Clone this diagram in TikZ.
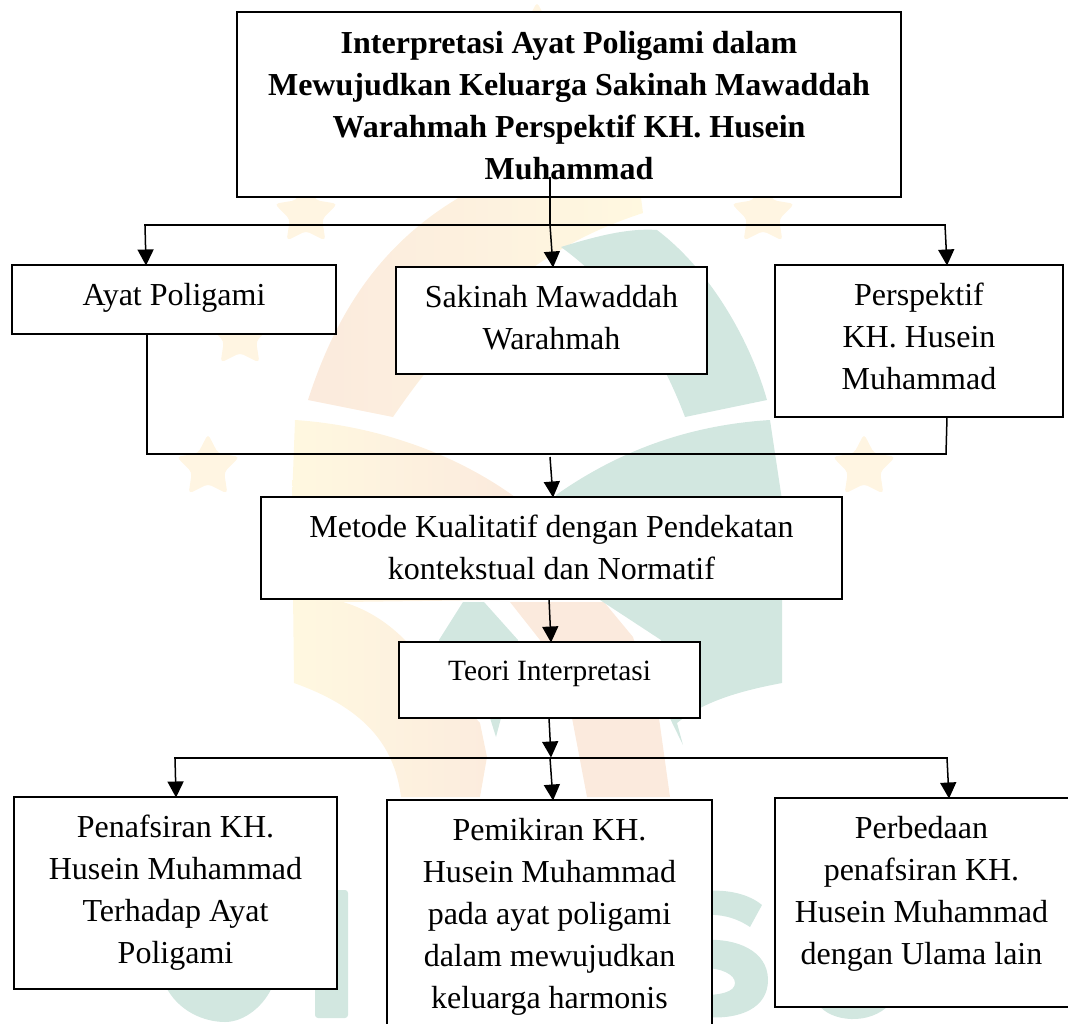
\documentclass[tikz,border=0pt]{standalone}
\usepackage{fontspec}
\setmainfont{Liberation Serif}
\usetikzlibrary{arrows.meta}
\definecolor{wmyellow}{HTML}{FFF8E0}
\definecolor{wmorange}{HTML}{FBEADD}
\definecolor{wmteal}{HTML}{D2E7E0}
\definecolor{wmstarc}{HTML}{FFF5E2}
\newcommand\wmstar[2]{\fill[wmstarc,rounded corners=4pt,shift={(#1,#2)}] (-90:33) -- (-54:17) -- (-18:33) -- (18:17) -- (54:33) -- (90:17) -- (126:33) -- (162:17) -- (198:33) -- (234:17) -- cycle;}
\newcommand\boxtext[4]{\parbox[c][#2pt][t]{#1pt}{\centering\fontsize{32}{42}\selectfont\rule{0pt}{#3pt}#4\par}}
\tikzset{
  boxnode/.style={draw=black,fill=white,line width=2pt,inner sep=0pt,outer sep=0pt,anchor=north west,rectangle},
  feed/.style={draw=black,line width=1.5pt},
  bar/.style={draw=black,line width=2.6pt,line cap=rect},
  arrowline/.style={draw=black,line width=1.5pt,-{Triangle[length=16pt,width=16pt]},shorten >=-0.5pt},
}
\begin{document}
\begin{tikzpicture}[x=1pt,y=-1pt]
\path[use as bounding box,clip] (0,0) rectangle (1068,1023);
% watermark
\wmstar{537}{35}
\wmstar{306}{214}
\wmstar{763}{214}
\wmstar{240}{336}
\wmstar{208}{467}
\wmstar{864}{467}
\path[left color=wmorange,right color=wmyellow]
  (308,400) .. controls (340,300) and (390,240) .. (455,200) -- (470,190) -- (640,190) -- (643,213)
  .. controls (560,240) and (480,290) .. (393,417) -- cycle;
\fill[wmteal] (561,247) .. controls (600,235) and (630,228) .. (657,230)
  .. controls (710,270) and (750,340) .. (767,400) -- (685,417) .. controls (660,350) and (620,290) .. (561,247) -- cycle;
\path[left color=wmyellow,right color=wmorange]
  (295,420) .. controls (370,425) and (450,450) .. (515,497) -- (500,600) -- (343,602)
  .. controls (370,610) and (390,625) .. (405,640) -- (480,723) -- (487,757) -- (480,797) -- (401,797)
  .. controls (395,750) and (370,710) .. (294,683) -- (292,500) -- cycle;
\fill[wmorange] (510,602) -- (604,602) -- (633,637) -- (659,718) -- (670,797) -- (587,797) -- (572,718) -- (540,640) -- cycle;
\fill[wmteal] (439,640) -- (463,602) -- (484,602) -- (518,640) -- (501,718) -- (496,737) -- (490,718) -- cycle;
\fill[wmteal] (556,495) .. controls (620,450) and (690,425) .. (770,420) -- (782,500) -- (782,683)
  .. controls (745,690) and (705,700) .. (677,723) -- (683,745) -- (661,700) -- (661,640) -- (600,600) -- cycle;
\fill[wmteal,rounded corners=3pt] (315,890) -- (348,890) -- (348,1018) -- (315,1018) -- cycle;
\fill[wmteal] (165,985) .. controls (178,1012) and (205,1022) .. (225,1022) .. controls (245,1022) and (265,1005) .. (273,985) -- cycle;
\fill[wmteal] (705,891) .. controls (730,889) and (750,895) .. (762,905) -- (750,927)
  .. controls (735,917) and (720,914) .. (705,915) -- cycle;
\fill[wmteal] (705,940) .. controls (735,938) and (768,950) .. (768,980)
  .. controls (768,1008) and (740,1020) .. (705,1017) -- (705,995)
  .. controls (720,995) and (735,992) .. (735,983) .. controls (735,974) and (720,968) .. (705,968) -- cycle;
\fill[wmteal] (818,1004) .. controls (830,1022) and (870,1026) .. (890,1004) -- cycle;
% boxes
\node[boxnode] (top) at (237,12) {\boxtext{664}{185}{41}{\bfseries Interpretasi Ayat Poligami dalam\\Mewujudkan Keluarga Sakinah Mawaddah\\Warahmah Perspektif KH. Husein\\Muhammad}};
\node[boxnode] (ayat) at (12,265) {\boxtext{324}{69}{40}{Ayat Poligami}};
\node[boxnode] (sakinah) at (396,267) {\boxtext{311}{107}{40}{Sakinah Mawaddah\\Warahmah}};
\node[boxnode] (persp) at (775,265) {\boxtext{288}{152}{40}{Perspektif\\KH. Husein\\Muhammad}};
\node[boxnode] (metode) at (261,497) {\boxtext{581}{102}{40}{Metode Kualitatif dengan Pendekatan\\kontekstual dan Normatif}};
\node[boxnode] (teori) at (399,642) {\boxtext{301}{76}{38}{\fontsize{29.4}{42}\selectfont Teori Interpretasi}};
\node[boxnode] (penaf) at (14,797) {\boxtext{323}{192}{40}{Penafsiran KH.\\Husein Muhammad\\Terhadap Ayat\\Poligami}};
\node[boxnode] (pemik) at (387,800) {\boxtext{325}{240}{40}{Pemikiran KH.\\Husein Muhammad\\pada ayat poligami\\dalam mewujudkan\\keluarga harmonis}};
\node[boxnode] (perbe) at (775,798) {\boxtext{296}{209}{40}{\hspace*{-3pt}Perbedaan\\\hspace*{-3pt}penafsiran KH.\\\hspace*{-3pt}Husein Muhammad\\\hspace*{-3pt}dengan Ulama lain}};
% junction points
\coordinate (t0) at (550,177);
\coordinate (t1) at (550,225);
\coordinate (tl) at (145,225);
\coordinate (tr) at (945,225);
\coordinate (ia) at (146,265);
\coordinate (is) at (553,267);
\coordinate (ip) at (947,265);
\coordinate (oa) at (147,334);
\coordinate (oal) at (147,454);
\coordinate (op) at (947,417);
\coordinate (opl) at (946,454);
\coordinate (m0) at (550,457);
\coordinate (im) at (553,497);
\coordinate (om) at (549,599);
\coordinate (it) at (551,642);
\coordinate (ot) at (549,718);
\coordinate (b1) at (551,757);
\coordinate (bl) at (175,758);
\coordinate (br) at (947,758);
\coordinate (bm) at (550,758);
\coordinate (i1) at (176,797);
\coordinate (i2) at (553,800);
\coordinate (i3) at (949,798);
% connectors
\draw[bar] (tl) -- (tr);
\draw[feed] (t0) -- (t1);
\draw[arrowline] (tl) -- (ia);
\draw[arrowline] (t1) -- (is);
\draw[arrowline] (tr) -- (ip);
\draw[feed] (oa) -- (oal);
\draw[feed] (op) -- (opl);
\draw[bar] (oal) -- (opl);
\draw[arrowline] (m0) -- (im);
\draw[arrowline] (om) -- (it);
\draw[arrowline] (ot) -- (b1);
\draw[bar] (bl) -- (br);
\draw[arrowline] (bl) -- (i1);
\draw[arrowline] (bm) -- (i2);
\draw[arrowline] (br) -- (i3);
\end{tikzpicture}
\end{document}
